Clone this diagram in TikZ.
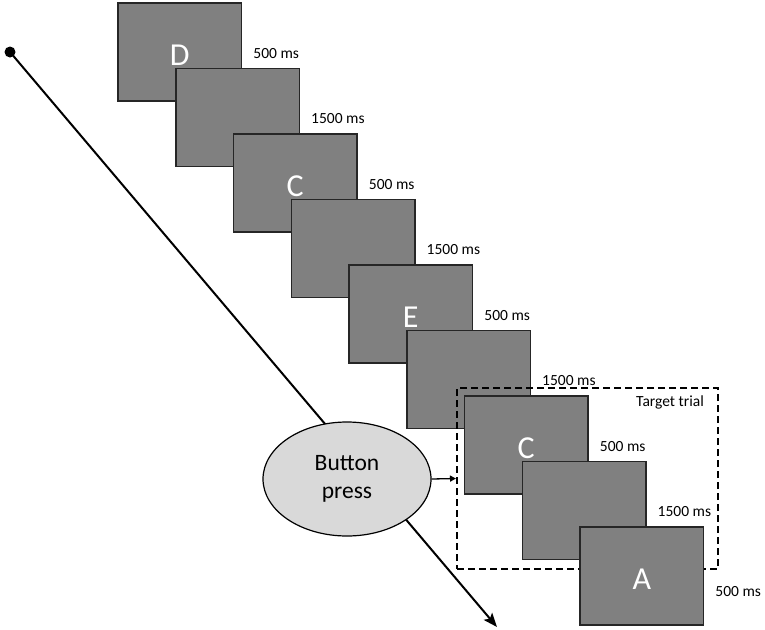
\documentclass[tikz,border=0pt]{standalone}
\usepackage{fontspec}
\setmainfont{Carlito}
\usetikzlibrary{arrows.meta,shapes.geometric}
\definecolor{scr}{HTML}{808080}
\definecolor{scrb}{HTML}{262626}
\definecolor{bpfill}{HTML}{D9D9D9}
\tikzset{
  screen/.style={draw=scrb, fill=scr, line width=1.5pt, minimum width=123.5pt, minimum height=98pt, inner sep=0pt, text=white, text height=26pt, text depth=0pt, font=\fontsize{32}{32}\selectfont},
  lbl/.style={font=\fontsize{15.5}{18}\selectfont, inner sep=0pt, anchor=west},
  timeline/.style={line width=2pt, -{Stealth[length=14pt,width=11pt,inset=3pt]}},
  trialbox/.style={draw, dash pattern=on 7pt off 4pt, line width=2pt, minimum width=261pt, minimum height=181pt, inner sep=0pt},
  press/.style={draw, ellipse, fill=bpfill, line width=1.2pt, minimum width=168pt, minimum height=114pt, inner sep=0pt, align=center, font=\fontsize{23.5}{28}\selectfont},
  dotstyle/.style={circle, fill=black, minimum size=11pt, inner sep=0pt}
}
\begin{document}
\begin{tikzpicture}[x=1pt,y=-1pt]
\useasboundingbox (0,0) rectangle (765,629);
% timeline
\node[dotstyle] (dot) at (10,52) {};
\coordinate (tend) at (497,627);
\draw[timeline] (dot.center) -- (tend);
% button press
\node[press] (bp) at (347,479) {Button\\press};
% screens
\node[screen] (s1) at (179.75,52) {D};
\node[screen] (s2) at (237.5,117.5) {};
\node[screen] (s3) at (295.25,183) {C};
\node[screen] (s4) at (353,248.5) {};
\node[screen] (s5) at (410.75,314) {E};
\node[screen] (s6) at (468.5,379.5) {};
% target trial box
\node[trialbox] (tt) at (587.5,478.5) {};
\node[lbl, anchor=east] (ttl) at ([shift={(-15,15)}]tt.north east) {Target trial};
\node[screen] (s7) at (526.25,445) {C};
\node[screen] (s8) at (584,510.5) {};
\node[screen] (s9) at (641.75,576) {A};
% durations
\node[lbl] (l1) at ([shift={(11,51)}]s1.north east) {500 ms};
\node[lbl] (l2) at ([shift={(11,51)}]s2.north east) {1500 ms};
\node[lbl] (l3) at ([shift={(11,51)}]s3.north east) {500 ms};
\node[lbl] (l4) at ([shift={(11,51)}]s4.north east) {1500 ms};
\node[lbl] (l5) at ([shift={(11,51)}]s5.north east) {500 ms};
\node[lbl] (l6) at ([shift={(11,51)}]s6.north east) {1500 ms};
\node[lbl] (l7) at ([shift={(11,51)}]s7.north east) {500 ms};
\node[lbl] (l8) at ([shift={(11,51)}]s8.north east) {1500 ms};
\node[lbl] (l9) at ([shift={(11,65)}]s9.north east) {500 ms};
% arrow from button press to target trial
\draw[line width=1.3pt, -{Triangle[length=6pt,width=6pt]}] (bp.east) -- (tt.west);
\end{tikzpicture}
\end{document}
